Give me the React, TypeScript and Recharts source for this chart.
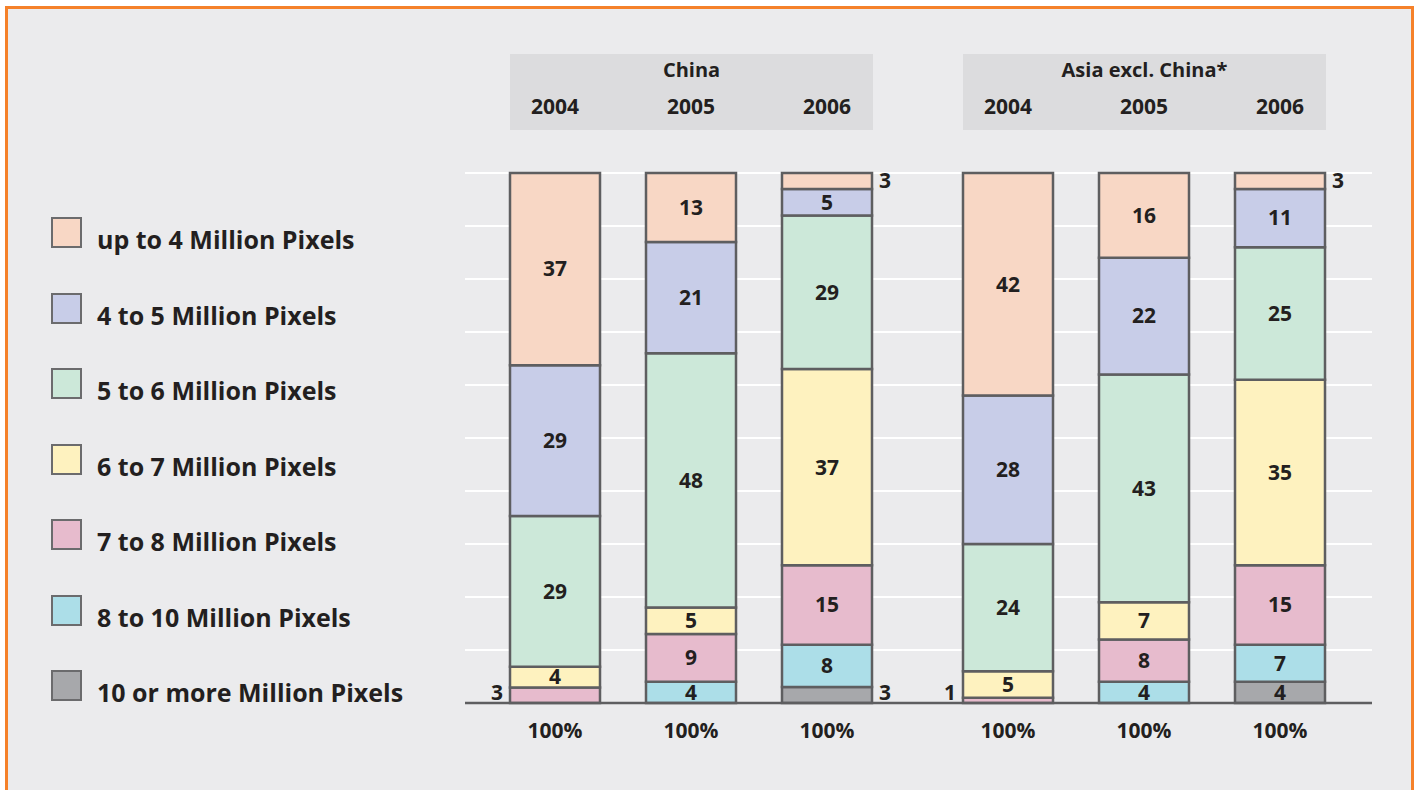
import React from 'react';
import { BarChart, Bar, XAxis, YAxis, CartesianGrid, LabelList } from 'recharts';

const regions = ['China', 'Asia excl. China*'];
const years = ['2004', '2005', '2006'];

// shares in %, order: China 2004-2006, then Asia excl. China 2004-2006
const upTo4 = [37, 13, 3, 42, 16, 3];
const mp4to5 = [29, 21, 5, 28, 22, 11];
const mp5to6 = [29, 48, 29, 24, 43, 25];
const mp6to7 = [4, 5, 37, 5, 7, 35];
const mp7to8 = [3, 9, 15, 1, 8, 15];
const mp8to10 = [0, 4, 8, 0, 4, 7];
const mp10plus = [0, 0, 3, 0, 0, 4];

const seriesNames = [
  'up to 4 Million Pixels',
  '4 to 5 Million Pixels',
  '5 to 6 Million Pixels',
  '6 to 7 Million Pixels',
  '7 to 8 Million Pixels',
  '8 to 10 Million Pixels',
  '10 or more Million Pixels',
];
const seriesKeys = ['upTo4', 'mp4to5', 'mp5to6', 'mp6to7', 'mp7to8', 'mp8to10', 'mp10plus'];
const seriesValues = [upTo4, mp4to5, mp5to6, mp6to7, mp7to8, mp8to10, mp10plus];
const seriesColors = ['#f8d7c5', '#c8cde8', '#cce8d9', '#fef2bf', '#e7bbcd', '#acdee8', '#a7a8ab'];

const FONT = '"Open Sans", Lato, sans-serif';
const TEXT = '#231f20';
const EDGE = '#5e5e60';
const PLOT_TOP = 133;
const PLOT_BOTTOM = 663;

const rowsFor = (r: number) =>
  years.map((year, i) => {
    const row: any = { year };
    seriesKeys.forEach((k, s) => {
      row[k] = seriesValues[s][r * 3 + i];
    });
    return row;
  });

const labelStyle = { fontFamily: FONT, fontWeight: 700, fontSize: 21, fill: TEXT };

// small shares sit outside the bar: left of the first year, right of the others
const renderLabel = (props: any) => {
  const { x, y, width, height, value } = props;
  if (!value) return null;
  if (value <= 3) {
    const left = x < 120;
    const cy = Math.min(y + height / 2, PLOT_BOTTOM - 10);
    return (
      <text
        x={left ? x - 7 : x + width + 7}
        y={cy}
        dy="0.35em"
        textAnchor={left ? 'end' : 'start'}
        style={labelStyle}
      >
        {value}
      </text>
    );
  }
  return (
    <text x={x + width / 2} y={y + height / 2} dy="0.35em" textAnchor="middle" style={labelStyle}>
      {value}
    </text>
  );
};

const tickStyle = { fontFamily: FONT, fontWeight: 700, fontSize: 21, fill: TEXT };

const Group = ({ region, left, width, pad }: { region: number; left: number; width: number; pad: [number, number] }) => {
  const rows = rowsFor(region);
  const order = [...seriesKeys.keys()].reverse();
  return (
    <div style={{ position: 'absolute', left, top: 40 }}>
      <BarChart
        width={width}
        height={720}
        data={rows}
        stackOffset="expand"
        margin={{ top: 0, right: 0, bottom: 0, left: 0 }}
        style={{ overflow: 'visible' }}
      >
        <CartesianGrid vertical={false} stroke="#ffffff" strokeWidth={2} />
        <YAxis hide type="number" domain={[0, 1]} ticks={[0, 0.1, 0.2, 0.3, 0.4, 0.5, 0.6, 0.7, 0.8, 0.9, 1]} />
        <XAxis
          dataKey="year"
          height={720 - PLOT_BOTTOM}
          padding={{ left: pad[0], right: pad[1] }}
          axisLine={{ stroke: EDGE, strokeWidth: 2.5 }}
          tickLine={false}
          tickSize={0}
          tickMargin={20}
          tick={tickStyle}
          tickFormatter={() => '100%'}
        />
        <XAxis
          xAxisId="top"
          orientation="top"
          dataKey="year"
          height={PLOT_TOP}
          padding={{ left: pad[0], right: pad[1] }}
          axisLine={false}
          tickLine={false}
          tickSize={0}
          tickMargin={59}
          tick={tickStyle}
        />
        {order.map((s) => (
          <Bar
            key={seriesKeys[s]}
            dataKey={seriesKeys[s]}
            name={seriesNames[s]}
            stackId="a"
            fill={seriesColors[s]}
            stroke={EDGE}
            strokeWidth={2.5}
            barSize={90}
            isAnimationActive={false}
          >
            <LabelList dataKey={seriesKeys[s]} content={renderLabel} />
          </Bar>
        ))}
      </BarChart>
    </div>
  );
};

const HeaderBox = ({ left, title }: { left: number; title: string }) => (
  <div
    style={{
      position: 'absolute',
      left,
      top: 54,
      width: 363,
      height: 76,
      background: '#dcdcde',
    }}
  >
    <div
      style={{
        position: 'absolute',
        top: 1,
        width: '100%',
        textAlign: 'center',
        fontFamily: FONT,
        fontWeight: 700,
        fontSize: 20,
        lineHeight: '30px',
        color: TEXT,
      }}
    >
      {title}
    </div>
  </div>
);

const App = () => {
  return (
    <div
      style={{
        position: 'absolute',
        left: 0,
        top: 0,
        width: 1416,
        height: 790,
        background: '#ffffff',
        overflow: 'hidden',
      }}
    >
      <div
        style={{
          position: 'absolute',
          left: 5,
          top: 6,
          width: 1409,
          height: 820,
          boxSizing: 'border-box',
          border: '3px solid #f5812a',
          background: '#ebebed',
        }}
      />
      <HeaderBox left={510} title={regions[0]} />
      <HeaderBox left={963} title={regions[1]} />
      <Group region={0} left={465} width={452} pad={[22, 22]} />
      <Group region={1} left={917} width={455} pad={[23, 24]} />
      {seriesNames.map((name, i) => {
        const cy = 240 + i * 75.5;
        return (
          <div key={name}>
            <div
              style={{
                position: 'absolute',
                left: 51,
                top: cy - 23,
                width: 31,
                height: 31,
                boxSizing: 'border-box',
                border: '2.5px solid #6b6b6d',
                background: seriesColors[i],
              }}
            />
            <div
              style={{
                position: 'absolute',
                left: 97,
                top: cy - 16,
                lineHeight: '30px',
                fontFamily: FONT,
                fontWeight: 700,
                fontSize: 25,
                color: TEXT,
                whiteSpace: 'nowrap',
              }}
            >
              {name}
            </div>
          </div>
        );
      })}
    </div>
  );
};

export default App;
